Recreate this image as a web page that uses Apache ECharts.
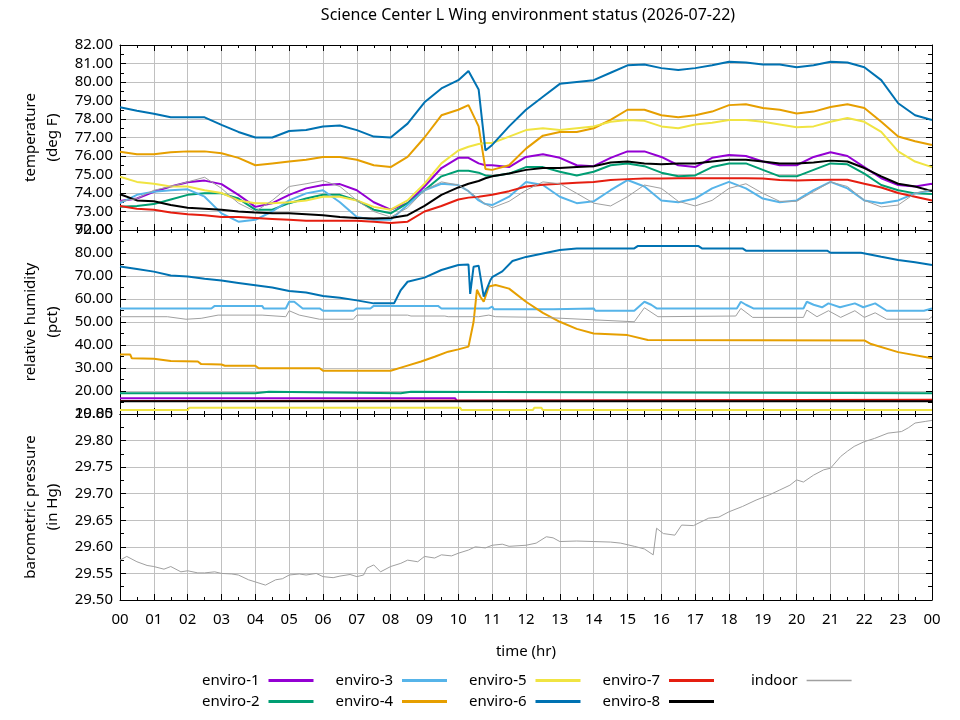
<!DOCTYPE html>
<html>
<head>
<meta charset="utf-8">
<title>Science Center L Wing environment status</title>
<script src="https://cdn.jsdelivr.net/npm/echarts@6/dist/echarts.min.js"></script>
<style>
  html, body { margin: 0; padding: 0; background: #fff; }
  #chart { width: 960px; height: 720px; }
</style>
</head>
<body>
<div id="chart"></div>
<script>
// ---- data ----
const sensorNames = ['enviro-1', 'enviro-2', 'enviro-3', 'enviro-4', 'enviro-5', 'enviro-6', 'enviro-7', 'enviro-8', 'indoor'];
const sensorColors = ['#9400d3', '#009e73', '#56b4e9', '#e69f00', '#f0e442', '#0072b2', '#e51e10', '#000000', '#a0a0a0'];
const hourLabels = ['00', '01', '02', '03', '04', '05', '06', '07', '08', '09', '10', '11', '12',
  '13', '14', '15', '16', '17', '18', '19', '20', '21', '22', '23', '00'];

// temperature (deg F), all sensors on the same hours
const tempHours = [0, 0.5, 1, 1.5, 2, 2.5, 3, 3.5, 4, 4.5, 5, 5.5, 6, 6.5, 7, 7.5, 8, 8.5, 9, 9.5, 10,
  10.3, 10.6, 10.8,
  11, 11.5, 12, 12.5, 13, 13.5, 14, 14.5, 15, 15.5, 16, 16.5, 17, 17.5, 18, 18.5, 19, 19.5, 20, 20.5, 21, 21.5, 22, 22.5, 23, 23.5, 24];
const temp1 = [73.57, 73.70, 74.07, 74.35, 74.58, 74.67, 74.48, 73.90, 73.25, 73.45, 73.90, 74.25, 74.43, 74.48, 74.15, 73.50, 73.10, 73.45, 74.35, 75.35, 75.90,
  75.90, 75.60, 75.50,
  75.50, 75.40, 75.95, 76.10, 75.90, 75.50, 75.45, 75.90, 76.25, 76.25, 75.95, 75.50, 75.40, 75.90, 76.05, 76.00, 75.70, 75.50, 75.50, 75.95, 76.20, 76.00, 75.40, 74.80, 74.43, 74.35, 74.50];
const temp2 = [73.26, 73.30, 73.40, 73.65, 73.90, 73.98, 73.98, 73.70, 73.10, 73.10, 73.45, 73.70, 73.90, 73.90, 73.60, 73.10, 72.90, 73.45, 74.15, 74.90, 75.20,
  75.20, 75.10, 74.95,
  74.90, 75.05, 75.40, 75.40, 75.15, 74.95, 75.15, 75.50, 75.60, 75.45, 75.10, 74.90, 74.95, 75.40, 75.60, 75.60, 75.25, 74.90, 74.90, 75.25, 75.60, 75.55, 75.05, 74.43, 74.15, 73.98, 73.95];
const temp3 = [73.45, 73.90, 74.07, 74.15, 74.20, 73.80, 72.90, 72.45, 72.55, 73.00, 73.60, 73.98, 74.15, 73.50, 72.70, 72.55, 72.55, 73.35, 74.15, 74.50, 74.43,
  74.10, 73.60, 73.40,
  73.35, 73.80, 74.60, 74.43, 73.80, 73.45, 73.55, 74.15, 74.70, 74.35, 73.60, 73.50, 73.70, 74.25, 74.60, 74.25, 73.70, 73.50, 73.60, 74.15, 74.60, 74.25, 73.60, 73.45, 73.60, 73.98, 74.15];
const temp4 = [76.23, 76.10, 76.10, 76.20, 76.25, 76.25, 76.15, 75.90, 75.50, 75.60, 75.70, 75.80, 75.95, 75.95, 75.80, 75.50, 75.40, 75.95, 77.00, 78.20, 78.50,
  78.75, 77.60, 75.30,
  75.25, 75.50, 76.40, 77.10, 77.30, 77.30, 77.50, 77.95, 78.50, 78.50, 78.20, 78.10, 78.20, 78.40, 78.75, 78.80, 78.60, 78.50, 78.30, 78.40, 78.65, 78.80, 78.60, 77.85, 77.05, 76.80, 76.60];
const temp5 = [74.88, 74.60, 74.50, 74.35, 74.35, 74.15, 74.00, 73.60, 73.45, 73.45, 73.50, 73.60, 73.80, 73.80, 73.60, 73.25, 73.10, 73.60, 74.50, 75.60, 76.30,
  76.50, 76.65, 76.70,
  76.70, 77.05, 77.40, 77.50, 77.40, 77.50, 77.60, 77.85, 77.95, 77.90, 77.60, 77.50, 77.70, 77.80, 77.95, 77.95, 77.85, 77.70, 77.55, 77.60, 77.85, 78.05, 77.85, 77.30, 76.25, 75.70, 75.40];
const temp6 = [78.63, 78.45, 78.28, 78.09, 78.09, 78.09, 77.68, 77.30, 77.00, 77.00, 77.35, 77.40, 77.60, 77.65, 77.40, 77.05, 77.00, 77.75, 78.90, 79.65, 80.10,
  80.60, 79.60, 76.30,
  76.60, 77.60, 78.50, 79.20, 79.90, 80.00, 80.10, 80.50, 80.90, 80.95, 80.75, 80.65, 80.75, 80.90, 81.10, 81.05, 80.95, 80.95, 80.80, 80.90, 81.10, 81.05, 80.80, 80.10, 78.85, 78.20, 77.95];
const temp7 = [73.30, 73.15, 73.10, 72.95, 72.85, 72.80, 72.70, 72.70, 72.65, 72.60, 72.55, 72.50, 72.50, 72.50, 72.50, 72.45, 72.38, 72.45, 73.00, 73.30, 73.65,
  73.75, 73.80, 73.85,
  73.90, 74.10, 74.35, 74.45, 74.50, 74.55, 74.60, 74.70, 74.75, 74.78, 74.78, 74.80, 74.80, 74.80, 74.80, 74.80, 74.78, 74.70, 74.68, 74.70, 74.72, 74.72, 74.50, 74.30, 74.00, 73.80, 73.60];
const temp8 = [73.93, 73.60, 73.55, 73.35, 73.20, 73.15, 73.10, 73.00, 72.95, 72.90, 72.90, 72.85, 72.80, 72.70, 72.65, 72.62, 72.65, 72.80, 73.30, 73.90, 74.30,
  74.50, 74.65, 74.80,
  74.90, 75.05, 75.25, 75.35, 75.35, 75.40, 75.45, 75.65, 75.70, 75.60, 75.55, 75.60, 75.60, 75.70, 75.80, 75.80, 75.70, 75.60, 75.60, 75.65, 75.75, 75.70, 75.35, 74.90, 74.50, 74.35, 74.10];
const tempIndoor = [73.55, 73.70, 74.15, 74.35, 74.60, 74.85, 74.25, 73.45, 73.00, 73.60, 74.35, 74.50, 74.67, 74.35, 73.60, 73.00, 72.70, 73.20, 74.15, 74.60, 74.43,
  74.10, 73.70, 73.40,
  73.20, 73.55, 74.15, 74.60, 74.50, 73.98, 73.45, 73.30, 73.80, 74.43, 74.25, 73.55, 73.30, 73.60, 74.25, 74.50, 73.98, 73.55, 73.55, 74.07, 74.60, 74.35, 73.60, 73.25, 73.35, 73.98, 74.20];

// relative humidity (pct), each sensor with its own hours
const humHours1 = [0, 9.9, 9.95, 24];
const hum1 = [16.9, 16.9, 15.8, 15.8];
const humHours2 = [0, 4.0, 4.05, 4.4, 4.45, 8.3, 8.35, 8.6, 8.65, 24];
const hum2 = [19.0, 19.0, 19.7, 19.7, 19.0, 19.0, 19.7, 19.7, 19.0, 19.0];
const humHours3 = [0, 2.7, 2.8, 4.2, 4.25, 4.9, 5.0, 5.15, 5.4, 5.9, 6.0, 6.9, 7.0, 7.4, 7.5, 9.4, 9.5, 10.9, 11.0, 11.05,
  12.8, 12.85, 14.0, 14.05, 15.2, 15.5, 15.7, 15.86, 18.23, 18.35, 18.5, 18.72, 20.2, 20.3, 20.5, 20.75, 20.94, 21.28, 21.72, 21.97,
  22.32, 22.66, 23.76, 24];
const hum3 = [55.9, 55.9, 57.0, 57.0, 55.9, 55.9, 58.8, 58.8, 55.9, 55.9, 54.9, 54.9, 55.9, 55.9, 57.0, 57.0, 55.9, 55.9, 56.7, 55.5,
  55.5, 55.9, 55.9, 54.9, 54.9, 58.8, 57.5, 55.9, 55.9, 58.8, 57.5, 55.9, 55.9, 58.8, 57.5, 56.4, 58.1, 56.4, 58.1, 56.4,
  58.1, 54.9, 54.9, 55.9];
const humHours4 = [0, 0.3, 0.35, 1, 1.5, 2.3, 2.4, 3, 3.1, 4, 4.1, 5.9, 6, 8, 8.4, 8.9, 9.3, 9.7, 10, 10.3,
  10.45, 10.55, 10.65, 10.75, 10.9, 11.1, 11.5, 12, 12.5, 13, 13.5, 14, 15, 15.6, 22, 22.2, 23, 24];
const hum4 = [35.9, 35.9, 34.2, 34.0, 33.0, 32.8, 31.7, 31.5, 31.0, 31.0, 29.9, 29.9, 28.8, 28.8, 30.6, 32.8, 34.9, 37.1, 38.1, 39.3,
  50.0, 64.0, 61.0, 58.8, 65.4, 66.1, 64.5, 58.8, 54.0, 50.1, 47.0, 45.0, 44.3, 42.2, 42.0, 40.4, 36.9, 34.2];
const humHours5 = [0, 2.0, 2.05, 10.05, 10.1, 12.2, 12.25, 12.45, 12.5, 24];
const hum5 = [11.7, 11.7, 12.75, 12.75, 11.7, 11.7, 12.75, 12.75, 11.7, 11.7];
const humHours6 = [0, 0.5, 1, 1.5, 2, 2.5, 3, 3.5, 4, 4.5, 5, 5.5, 6, 6.5, 7, 7.5, 7.8, 8.1, 8.3, 8.5,
  9, 9.5, 10, 10.3, 10.35, 10.45, 10.6, 10.75, 10.95, 11, 11.3, 11.6, 12, 12.5, 13, 13.5, 15.2, 15.3, 17.1, 17.2,
  18.4, 18.5, 20.9, 21, 21.9, 22.5, 23, 23.5, 24];
const hum6 = [74.1, 73.0, 71.9, 70.2, 69.8, 68.8, 68.0, 67.0, 66.0, 65.0, 63.5, 62.8, 61.3, 60.5, 59.4, 58.1, 58.1, 58.1, 63.9, 67.5,
  69.3, 72.6, 74.8, 75.0, 62.2, 74.0, 74.5, 61.0, 68.3, 69.5, 72.0, 76.5, 78.3, 79.8, 81.3, 82.0, 82.0, 83.0, 83.0, 82.0,
  82.0, 81.0, 81.0, 80.1, 80.1, 78.4, 77.0, 76.0, 74.8];
const humHours7 = [0, 3.5, 3.55, 24];
const hum7 = [15.6, 15.6, 16.2, 16.2];
const humHours8 = [0, 24];
const hum8 = [15.5, 15.5];
const humHoursIndoor = [0, 1.4, 1.95, 2.4, 2.9, 4.2, 4.25, 4.9, 5.0, 5.3, 5.9, 6.9, 7.0, 8.5, 8.6, 9.6, 9.7, 10.6, 10.9, 11.1,
  12.5, 15.2, 15.5, 15.9, 18.2, 18.35, 18.7, 20.2, 20.3, 20.6, 20.94, 21.3, 21.72, 22.0, 22.32, 22.66, 23.9, 24];
const humIndoor = [52.3, 52.3, 51.2, 51.6, 53.0, 53.0, 52.3, 52.3, 54.9, 53.0, 51.2, 51.2, 53.0, 53.0, 52.6, 52.6, 52.3, 52.3, 53.0, 52.3,
  52.0, 50.1, 56.2, 52.3, 52.6, 55.9, 52.0, 52.0, 55.2, 52.3, 54.9, 52.0, 54.9, 52.0, 54.0, 51.2, 51.2, 52.3];

// barometric pressure (in Hg), indoor only
const pressHours = [0, 0.2, 0.5, 0.8, 1, 1.3, 1.5, 1.8, 2, 2.3, 2.5, 2.8, 3, 3.3, 3.5, 3.8, 4, 4.3, 4.6, 4.8,
  5, 5.3, 5.5, 5.8, 6, 6.3, 6.5, 6.8, 7, 7.2, 7.3, 7.5, 7.7, 8, 8.3, 8.5, 8.8, 9, 9.3, 9.5,
  9.8, 10, 10.3, 10.5, 10.8, 11, 11.3, 11.5, 12, 12.3, 12.6, 12.8, 13, 13.5, 14, 14.5, 14.8, 15.2, 15.5, 15.76,
  15.86, 16.06, 16.4, 16.6, 16.95, 17.4, 17.7, 18, 18.4, 18.8, 19.2, 19.5, 19.8, 20, 20.2, 20.5, 20.8, 21, 21.3, 21.5,
  21.7, 22, 22.3, 22.7, 23.1, 23.3, 23.5, 23.8, 24];
const pressIndoor = [29.575, 29.582, 29.572, 29.565, 29.563, 29.558, 29.563, 29.553, 29.555, 29.551, 29.551, 29.553, 29.550, 29.549, 29.547, 29.538, 29.534, 29.528, 29.538, 29.540,
  29.547, 29.549, 29.547, 29.550, 29.544, 29.542, 29.545, 29.548, 29.544, 29.547, 29.560, 29.566, 29.553, 29.563, 29.569, 29.575, 29.572, 29.582, 29.579, 29.585,
  29.583, 29.588, 29.594, 29.600, 29.598, 29.603, 29.605, 29.601, 29.603, 29.607, 29.619, 29.617, 29.610, 29.611, 29.610, 29.609, 29.607, 29.601, 29.596, 29.585,
  29.635, 29.625, 29.622, 29.641, 29.640, 29.654, 29.656, 29.666, 29.676, 29.688, 29.698, 29.707, 29.716, 29.726, 29.722, 29.735, 29.745, 29.748, 29.770, 29.780,
  29.789, 29.798, 29.804, 29.814, 29.817, 29.824, 29.833, 29.836, 29.838];

// ---- chart ----
function pairs(hours, values) {
  return hours.map(function (h, i) { return [h, values[i]]; });
}

const tempSets = [temp1, temp2, temp3, temp4, temp5, temp6, temp7, temp8, tempIndoor];
const humSets = [
  [humHours1, hum1], [humHours2, hum2], [humHours3, hum3], [humHours4, hum4], [humHours5, hum5],
  [humHours6, hum6], [humHours7, hum7], [humHours8, hum8], [humHoursIndoor, humIndoor]
];

const panels = [
  { top: 45, height: 185, min: 72, max: 82, interval: 1, name: 'temperature\n(deg F)' },
  { top: 230, height: 184, min: 10, max: 90, interval: 10, name: 'relative humidity\n(pct)' },
  { top: 414, height: 186, min: 29.5, max: 29.85, interval: 0.05, name: 'barometric pressure\n(in Hg)' }
];

const fontFamily = 'Noto Sans';
const black = '#000';
const gridGray = '#c0c0c0';

function xAxisFor(i, pos) {
  const labelled = i === 2 && pos === 'bottom';
  return {
    type: 'value', gridIndex: i, position: pos, min: 0, max: 24, interval: 1,
    axisLine: { show: true, onZero: false, lineStyle: { color: black, width: 1 } },
    axisTick: { show: true, inside: true, length: 6, lineStyle: { color: black } },
    minorTick: { show: true, splitNumber: 2, length: 3, lineStyle: { color: black } },
    splitLine: { show: pos === 'bottom', lineStyle: { color: gridGray, width: 1 } },
    axisLabel: {
      show: labelled, margin: 12, fontSize: 15, color: black, fontFamily: fontFamily,
      formatter: function (v) { return hourLabels[Math.round(v)]; }
    },
    name: labelled ? 'time (hr)' : '',
    nameLocation: 'middle', nameGap: 44,
    nameTextStyle: { fontSize: 15, color: black, fontFamily: fontFamily }
  };
}

function yAxisFor(i, pos) {
  const p = panels[i];
  const left = pos === 'left';
  return {
    type: 'value', gridIndex: i, position: pos, min: p.min, max: p.max, interval: p.interval,
    axisLine: { show: true, onZero: false, lineStyle: { color: black, width: 1 } },
    axisTick: { show: true, inside: true, length: 6, lineStyle: { color: black } },
    minorTick: { show: true, splitNumber: 2, length: 4, lineStyle: { color: black } },
    splitLine: { show: left, lineStyle: { color: gridGray, width: 1 } },
    axisLabel: {
      show: left, margin: 7, fontSize: 15, color: black, fontFamily: fontFamily,
      formatter: function (v) { return v.toFixed(2); }
    },
    name: left ? p.name : '',
    nameLocation: 'middle', nameGap: 56,
    nameTextStyle: { fontSize: 15, lineHeight: 22, color: black, fontFamily: fontFamily }
  };
}

const series = [];
sensorNames.forEach(function (name, k) {
  const width = name === 'indoor' ? 1 : 2;
  series.push({
    name: name, type: 'line', xAxisIndex: 0, yAxisIndex: 0,
    data: pairs(tempHours, tempSets[k]),
    showSymbol: false, lineStyle: { width: width, color: sensorColors[k] }, itemStyle: { color: sensorColors[k] }
  });
  series.push({
    name: name, type: 'line', xAxisIndex: 1, yAxisIndex: 1,
    data: pairs(humSets[k][0], humSets[k][1]),
    showSymbol: false, lineStyle: { width: width, color: sensorColors[k] }, itemStyle: { color: sensorColors[k] }
  });
});
series.push({
  name: 'indoor', type: 'line', xAxisIndex: 2, yAxisIndex: 2,
  data: pairs(pressHours, pressIndoor),
  showSymbol: false, lineStyle: { width: 1, color: sensorColors[8] }, itemStyle: { color: sensorColors[8] }
});

// text first, line after it (gnuplot style key)
function legendRow(names, left, top, thick) {
  return {
    data: names, left: left, top: top, orient: 'horizontal', align: 'right',
    icon: 'rect', itemWidth: 45, itemHeight: thick, itemGap: 22,
    selectedMode: false,
    formatter: function (name) { return name + ' '; },
    textStyle: { fontSize: 15, color: black, fontFamily: fontFamily }
  };
}

const myChart = echarts.init(document.getElementById('chart'), null, { renderer: 'canvas' });
myChart.setOption({
  animation: false,
  backgroundColor: '#fff',
  textStyle: { fontFamily: fontFamily },
  title: {
    text: 'Science Center L Wing environment status (2026-07-22)',
    left: 523, top: 2, textAlign: 'center',
    textStyle: { fontSize: 16, fontWeight: 'normal', color: black, fontFamily: fontFamily }
  },
  legend: [
    legendRow(['enviro-1', 'enviro-3', 'enviro-5', 'enviro-7'], 197, 668, 3),
    legendRow(['enviro-2', 'enviro-4', 'enviro-6', 'enviro-8'], 197, 689, 3),
    legendRow(['indoor'], 746, 668, 1.5)
  ],
  grid: panels.map(function (p) {
    return { left: 120, right: 28, top: p.top, height: p.height, show: false };
  }),
  xAxis: [xAxisFor(0, 'bottom'), xAxisFor(1, 'bottom'), xAxisFor(2, 'bottom'),
    xAxisFor(0, 'top'), xAxisFor(1, 'top'), xAxisFor(2, 'top')],
  yAxis: [yAxisFor(0, 'left'), yAxisFor(1, 'left'), yAxisFor(2, 'left'),
    yAxisFor(0, 'right'), yAxisFor(1, 'right'), yAxisFor(2, 'right')],
  series: series
});
</script>
</body>
</html>
